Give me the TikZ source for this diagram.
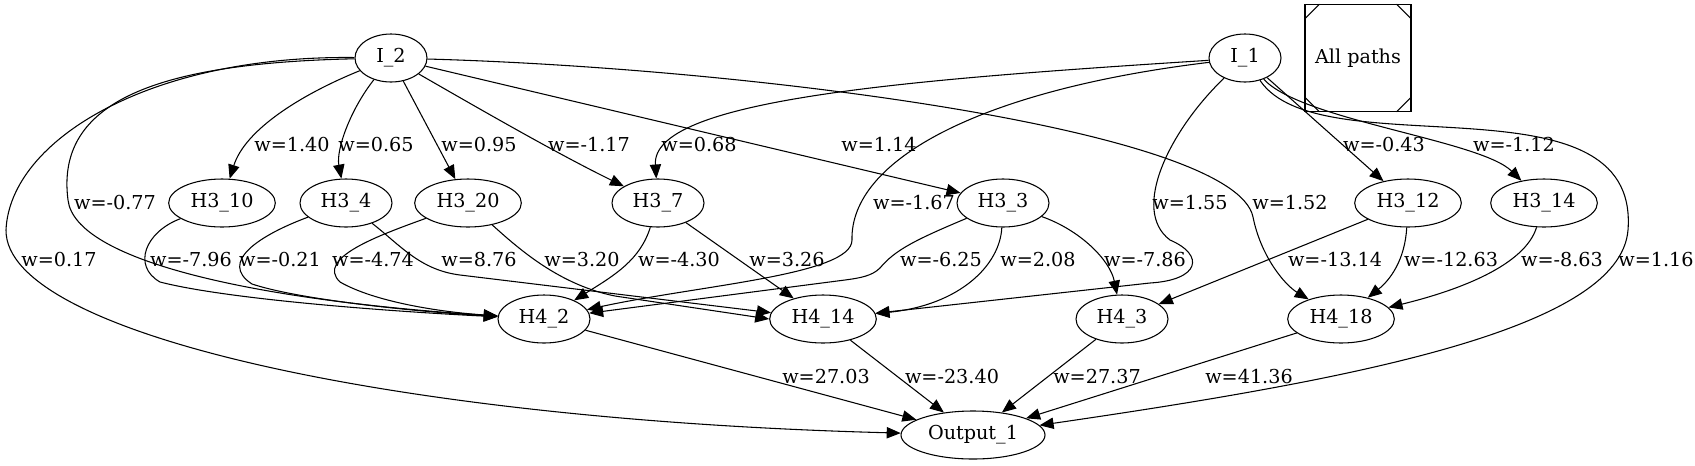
\documentclass[tikz,border=0pt]{standalone}
\usepackage{fontspec}
\setmainfont{DejaVu Serif}
\usetikzlibrary{arrows.meta,shapes.geometric}
\newcommand{\gvfont}{\fontsize{14.4pt}{16pt}\selectfont}

\begin{document}
\begin{tikzpicture}[x=0.75pt,y=-0.75pt,
    nd/.style={draw,line width=0.8pt,ellipse,inner sep=0pt,minimum height=36pt,font=\gvfont},
    inp/.style={minimum width=54pt},
    sm/.style={minimum width=69pt},
    md/.style={minimum width=80pt},
    wide/.style={minimum width=108pt},
    wlab/.style={font=\gvfont,inner sep=0pt},
    edge/.style={line width=0.8pt,-{Triangle[length=10.5pt,width=8.5pt]}}]
  \useasboundingbox (0,0) rectangle (1695,465);
  % --- nodes ---
  \foreach \n/\x/\y/\t/\s in {%
      I2/391/58/{I\_2}/inp, I1/1245/58/{I\_1}/inp,
      H310/222/203/{H3\_10}/md, H34/346/203/{H3\_4}/sm, H320/468/203/{H3\_20}/md,
      H37/658/203/{H3\_7}/sm, H33/1003/203/{H3\_3}/sm,
      H312/1408/203/{H3\_12}/md, H314/1544/203/{H3\_14}/md,
      H42/544/319/{H4\_2}/sm, H414/823/319/{H4\_14}/md,
      H43/1122/319/{H4\_3}/sm, H418/1341/319/{H4\_18}/md,
      out1/973/435/{Output\_1}/wide}
    \node[nd,\s] (\n) at (\x,\y) {\t};
  % legend box
  \node[draw,line width=0.8pt,minimum width=79.5pt,minimum height=80pt,font=\gvfont]
    (allp) at (1358,58) {All paths};
  \draw[line width=0.8pt] ([xshift=11.25pt]allp.north west) -- ([yshift=-11.25pt]allp.north west)
    ([xshift=-11.25pt]allp.north east) -- ([yshift=-11.25pt]allp.north east)
    ([xshift=11.25pt]allp.south west) -- ([yshift=11.25pt]allp.south west)
    ([xshift=-11.25pt]allp.south east) -- ([yshift=11.25pt]allp.south east);
  % --- straight edges ---
  \foreach \a/\b in {I2/H320, I2/H33, I1/H312, H37/H414, H312/H43,
      H42/out1, H414/out1, H43/out1, H418/out1}
    \draw[edge] (\a) -- (\b);
  % --- curved edges from the inputs ---
  \draw[edge] (I2) .. controls (300,95) and (245,130) .. (H310);
  \draw[edge] (I2) .. controls (350,110) and (336,150) .. (H34);
  \draw[edge] (I2) .. controls (490,115) and (560,155) .. (H37);
  \draw[edge] (I2) .. controls (750,68) and (1235,130) .. (1253,217)
    .. controls (1261,257) and (1285,285) .. (H418);
  \draw[edge] (I2) .. controls (160,63) and (55,100) .. (68,200)
    .. controls (75,260) and (250,300) .. (H42);
  \draw[edge] (I2) .. controls (150,55) and (10,140) .. (6,230)
    .. controls (5,335) and (400,420) .. (out1);
  \draw[edge] (I1) .. controls (900,80) and (651,100) .. (H37);
  \draw[edge] (I1) .. controls (980,90) and (850,160) .. (852,240)
    .. controls (852,275) and (700,285) .. (H42);
  \draw[edge] (I1) .. controls (1170,130) and (1130,210) .. (1170,240)
    .. controls (1205,255) and (1200,280) .. (1150,283) -- (H414);
  \draw[edge] (I1) .. controls (1300,120) and (1480,140) .. (H314);
  \draw[edge] (I1) .. controls (1320,170) and (1640,70) .. (1628,230)
    .. controls (1620,330) and (1350,380) .. (out1);
  % --- curved edges between hidden layers ---
  \draw[edge] (H310) .. controls (145,232) and (132,266) .. (160,282)
    .. controls (230,300) and (400,312) .. (H42);
  \draw[edge] (H34) .. controls (260,235) and (218,262) .. (252,284)
    .. controls (300,300) and (420,312) .. (H42);
  \draw[edge] (H34) .. controls (400,245) and (420,270) .. (460,275) -- (H414);
  \draw[edge] (H320) .. controls (380,235) and (315,258) .. (340,282)
    .. controls (375,302) and (440,312) .. (H42);
  \draw[edge] (H320) .. controls (520,250) and (560,285) .. (615,296) -- (H414.west);
  \draw[edge] (H37) .. controls (640,260) and (615,275) .. (H42);
  \draw[edge] (H33) .. controls (915,240) and (895,250) .. (880,268)
    .. controls (872,276) and (860,278) .. (845,280) -- (H42);
  \draw[edge] (H33) .. controls (1000,265) and (960,305) .. (H414);
  \draw[edge] (H33) .. controls (1080,230) and (1110,260) .. (H43);
  \draw[edge] (H312) .. controls (1405,260) and (1390,280) .. (H418);
  \draw[edge] (H314) .. controls (1525,265) and (1460,290) .. (H418);
  % --- weights ---
  \foreach \x/\y/\t [count=\i] in {%
      292/145/1.40, 376/145/0.65, 479/145/0.95, 589/145/-1.17, 699/145/0.68,
      879/145/1.14, 1384/145/-0.43, 1514/145/-1.12,
      115/203/-0.77, 914/203/-1.67, 1190/203/1.55, 1290/203/1.52,
      59/260/0.17, 191/260/-7.96, 280/260/-0.21, 373/260/-4.74, 479/260/8.76,
      582/260/3.20, 679/260/-4.30, 787/260/3.26, 941/260/-6.25, 1038/260/2.08,
      1145/260/-7.86, 1335/260/-13.14, 1451/260/-12.63, 1562/260/-8.63,
      1656/260/1.16,
      826/377/27.03, 952/377/-23.40, 1097/377/27.37, 1249/377/41.36}
    \node[wlab] (w\i) at (\x,\y) {w=\t};
\end{tikzpicture}
\end{document}
